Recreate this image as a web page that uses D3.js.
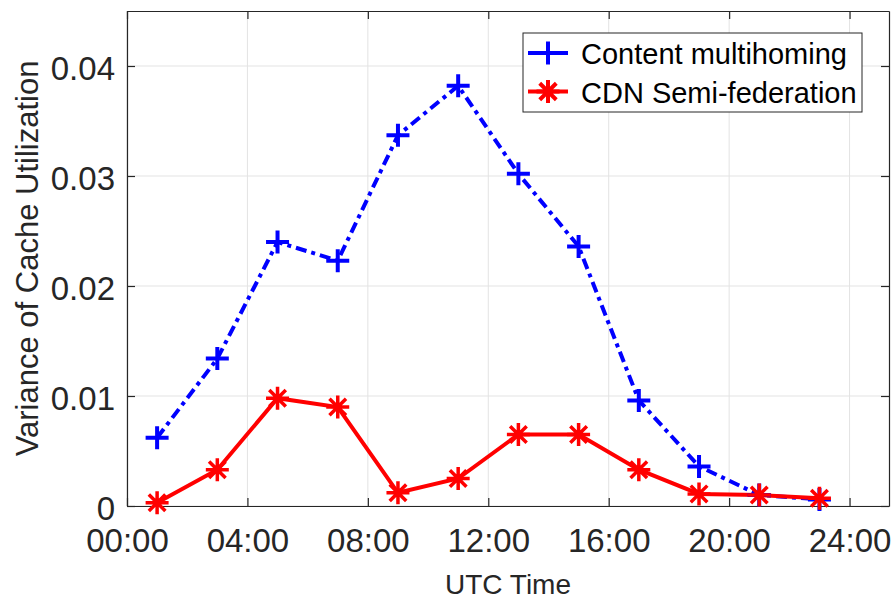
<!DOCTYPE html>
<html>
<head>
<meta charset="utf-8">
<script src="https://cdn.jsdelivr.net/npm/d3@7"></script>
<style>
  body { margin: 0; background: #fff; }
  text { font-family: "Liberation Sans", Arial, sans-serif; fill: #262626; }
</style>
</head>
<body>
<div id="chart"></div>
<script>
// data (hours UTC, variance)
var hours = [1, 3, 5, 7, 9, 11, 13, 15, 17, 19, 21, 23];
var multihoming = [0.0062, 0.0134, 0.0240, 0.0223, 0.0337, 0.0382, 0.0302, 0.0236, 0.0096, 0.0036, 0.0010, 0.0006];
var semiFederation = [0.0003, 0.0033, 0.0098, 0.0090, 0.0012, 0.0025, 0.0065, 0.0065, 0.0033, 0.0011, 0.0010, 0.0007];
var xTicks = [0, 4, 8, 12, 16, 20, 24];
var xTickLabels = ["00:00", "04:00", "08:00", "12:00", "16:00", "20:00", "24:00"];
var yTicks = [0, 0.01, 0.02, 0.03, 0.04];
var seriesNames = ["Content multihoming", "CDN Semi-federation"];

var margin = {top: 11, right: 5, bottom: 93, left: 127},
    width = 894 - margin.left - margin.right,
    height = 599 - margin.top - margin.bottom;

var svg = d3.select("#chart").append("svg")
    .attr("width", 894).attr("height", 599)
  .append("g")
    .attr("transform", "translate(" + margin.left + "," + margin.top + ")");

var x = d3.scaleLinear().domain([0, 25.31]).range([0, width]);
var y = d3.scaleLinear().domain([0, 0.045]).range([height, 0]);

// grid
svg.append("g").selectAll("line.gx").data(xTicks).enter().append("line")
    .attr("x1", function(d) { return x(d); }).attr("x2", function(d) { return x(d); })
    .attr("y1", 0).attr("y2", height)
    .attr("stroke", "#e3e3e3").attr("stroke-width", 1);
svg.append("g").selectAll("line.gy").data(yTicks).enter().append("line")
    .attr("y1", function(d) { return y(d); }).attr("y2", function(d) { return y(d); })
    .attr("x1", 0).attr("x2", width)
    .attr("stroke", "#e3e3e3").attr("stroke-width", 1);

// axes (ticks inside, box on)
function styleAxis(g) {
  g.select(".domain").attr("stroke", "#262626").attr("stroke-width", 1.2);
  g.selectAll(".tick line").attr("stroke", "#262626").attr("stroke-width", 1.2);
  g.selectAll(".tick text").style("font-size", "33px").attr("fill", "#262626");
}
var xAxis = svg.append("g").attr("transform", "translate(0," + height + ")")
    .call(d3.axisBottom(x).tickValues(xTicks).tickSize(-8).tickSizeOuter(0)
      .tickFormat(function(d, i) { return xTickLabels[i]; }));
styleAxis(xAxis);
xAxis.selectAll(".tick text").attr("y", 22.5).attr("dy", "0.71em");

var xTop = svg.append("g")
    .call(d3.axisTop(x).tickValues(xTicks).tickSize(-8).tickSizeOuter(0).tickFormat(""));
styleAxis(xTop);

var yAxis = svg.append("g")
    .call(d3.axisLeft(y).tickValues(yTicks).tickSize(-8).tickSizeOuter(0)
      .tickFormat(function(d) { return d === 0 ? "0" : d3.format(".2f")(d); }));
styleAxis(yAxis);
yAxis.selectAll(".tick text").attr("x", -12).attr("dy", "0.40em");

var yRight = svg.append("g").attr("transform", "translate(" + width + ",0)")
    .call(d3.axisRight(y).tickValues(yTicks).tickSize(-8).tickSizeOuter(0).tickFormat(""));
styleAxis(yRight);

// axis labels
svg.append("text")
    .attr("x", width / 2).attr("y", height + 88)
    .style("text-anchor", "middle").style("font-size", "28px")
    .text("UTC Time");
svg.append("text")
    .attr("transform", "rotate(-90)")
    .attr("x", -height / 2).attr("y", -margin.left + 38)
    .style("text-anchor", "middle").style("font-size", "31px")
    .text("Variance of Cache Utilization");

// markers
function plusPath(s) {
  return "M" + (-s) + ",0H" + s + "M0," + (-s) + "V" + s;
}
function starPath(s) {
  var d = s * 0.72;
  return plusPath(s) + "M" + (-d) + "," + (-d) + "L" + d + "," + d + "M" + (-d) + "," + d + "L" + d + "," + (-d);
}

var line = d3.line()
    .x(function(d) { return x(d[0]); })
    .y(function(d) { return y(d[1]); });

var blueData = hours.map(function(h, i) { return [h, multihoming[i]]; });
var redData = hours.map(function(h, i) { return [h, semiFederation[i]]; });

svg.append("path").datum(blueData)
    .attr("d", line).attr("fill", "none")
    .attr("stroke", "#0000ff").attr("stroke-width", 4)
    .attr("stroke-dasharray", "11,5,4,5");
svg.append("path").datum(redData)
    .attr("d", line).attr("fill", "none")
    .attr("stroke", "#ff0000").attr("stroke-width", 4);

svg.selectAll(".blue-mark").data(blueData).enter().append("path")
    .attr("class", "blue-mark")
    .attr("transform", function(d) { return "translate(" + x(d[0]) + "," + y(d[1]) + ")"; })
    .attr("d", plusPath(11.5))
    .attr("stroke", "#0000ff").attr("stroke-width", 4).attr("fill", "none");
svg.selectAll(".red-mark").data(redData).enter().append("path")
    .attr("class", "red-mark")
    .attr("transform", function(d) { return "translate(" + x(d[0]) + "," + y(d[1]) + ")"; })
    .attr("d", starPath(11.5))
    .attr("stroke", "#ff0000").attr("stroke-width", 3.5).attr("fill", "none");

// legend
var legend = svg.append("g").attr("transform", "translate(" + (523 - margin.left) + "," + (33 - margin.top) + ")");
legend.append("rect")
    .attr("width", 339).attr("height", 79)
    .attr("fill", "#fff").attr("stroke", "#262626").attr("stroke-width", 1);
var colors = ["#0000ff", "#ff0000"];
var paths = [plusPath(11.5), starPath(11.5)];
seriesNames.forEach(function(name, i) {
  var row = legend.append("g").attr("transform", "translate(0," + (20 + i * 38.5) + ")");
  row.append("line").attr("x1", 5).attr("x2", 45).attr("y1", 0).attr("y2", 0)
      .attr("stroke", colors[i]).attr("stroke-width", 4);
  row.append("path").attr("transform", "translate(25,0)").attr("d", paths[i])
      .attr("stroke", colors[i]).attr("stroke-width", 4).attr("fill", "none");
  row.append("text").attr("x", 58).attr("y", 11)
      .style("font-size", "29px").attr("fill", "#000").style("fill", "#000")
      .text(name);
});
</script>
</body>
</html>
